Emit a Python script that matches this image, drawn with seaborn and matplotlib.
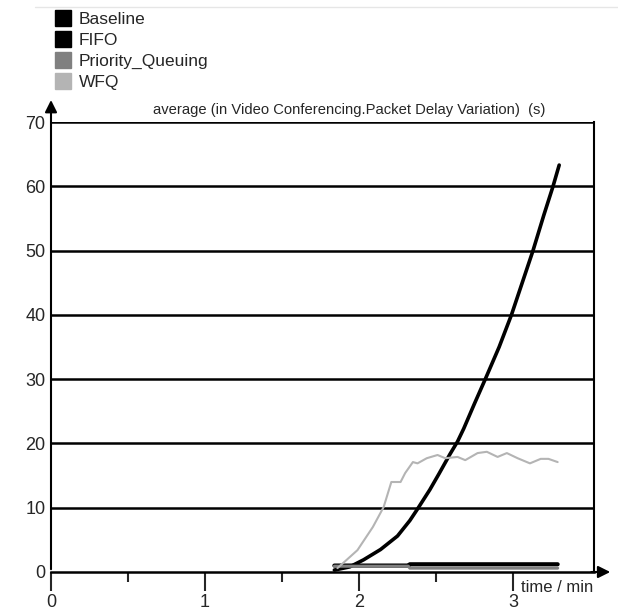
import pandas as pd
import seaborn as sns
import matplotlib.pyplot as plt
from matplotlib.lines import Line2D

# time in minutes, values in seconds
fifo_t = [1.84, 1.94, 2.03, 2.14, 2.25, 2.33, 2.38, 2.46, 2.52, 2.59, 2.64, 2.68, 2.75,
          2.82, 2.91, 2.99, 3.06, 3.13, 3.20, 3.26, 3.30]
fifo_v = [0.3, 0.8, 1.9, 3.5, 5.6, 8.0, 9.8, 12.8, 15.3, 18.3, 20.3, 22.3, 26.2,
          30.0, 35.0, 40.0, 45.0, 50.0, 55.5, 60.0, 63.3]

wfq_t = [1.86, 1.99, 2.09, 2.16, 2.21, 2.27, 2.30, 2.35, 2.38, 2.44, 2.51, 2.56, 2.64, 2.69,
         2.77, 2.83, 2.90, 2.96, 3.03, 3.11, 3.18, 3.23, 3.29]
wfq_v = [0.6, 3.4, 7.0, 10.1, 14.0, 14.0, 15.4, 17.1, 16.9, 17.7, 18.2, 17.7, 17.9, 17.4,
         18.5, 18.7, 17.9, 18.5, 17.7, 16.9, 17.6, 17.6, 17.1]

base_t = [1.84, 2.32, 2.33, 3.29]
base_v = [1.0, 1.0, 1.2, 1.2]

prio_t = [1.84, 2.32, 2.33, 3.29]
prio_v = [0.9, 0.9, 0.6, 0.6]

series = ['Baseline', 'FIFO', 'Priority_Queuing', 'WFQ']
colors = ['#000000', '#000000', '#808080', '#b4b4b4']

df = pd.concat([
    pd.DataFrame({'time': base_t, 'value': base_v, 'scenario': 'Baseline'}),
    pd.DataFrame({'time': prio_t, 'value': prio_v, 'scenario': 'Priority_Queuing'}),
    pd.DataFrame({'time': wfq_t, 'value': wfq_v, 'scenario': 'WFQ'}),
    pd.DataFrame({'time': fifo_t, 'value': fifo_v, 'scenario': 'FIFO'}),
])

sns.set_style('white')
plt.rcParams['font.family'] = ['Liberation Sans', 'DejaVu Sans']

fig = plt.figure(figsize=(6.18, 6.09), dpi=100)
ax = fig.add_axes([51 / 618, 1 - 572 / 609, (594 - 51) / 618, (572 - 122) / 609])

sns.lineplot(data=df, x='time', y='value', hue='scenario', size='scenario',
             hue_order=series, palette=dict(zip(series, colors)),
             sizes={'Baseline': 3, 'FIFO': 2.6, 'Priority_Queuing': 2.2, 'WFQ': 1.5},
             sort=False, legend=False, ax=ax)

ax.set_xlim(0, 3.526)
ax.set_ylim(0, 70)
ax.set_yticks(range(0, 71, 10))
ax.set_xticks([0, 1, 2, 3])
ax.set_xticks([0.5, 1.5, 2.5], minor=True)
ax.tick_params(axis='x', which='major', direction='out', length=14, width=1.5,
               labelsize=13, pad=2, bottom=True)
ax.tick_params(axis='x', which='minor', direction='out', length=7, width=1.5, bottom=True)
ax.tick_params(axis='y', length=0, labelsize=13, pad=4)
ax.set_xlabel('')
ax.set_ylabel('')

for y in range(10, 71, 10):
    ax.axhline(y, color='black', lw=1.8, zorder=0)

ax.spines['top'].set_visible(False)
ax.spines['left'].set_visible(False)
ax.spines['right'].set_color('black')
ax.spines['right'].set_linewidth(1.5)
ax.spines['bottom'].set_color('black')
ax.spines['bottom'].set_linewidth(1.8)

# axis arrows
ax.annotate('', xy=(0, 1.055), xytext=(0, 0), xycoords='axes fraction',
            arrowprops=dict(arrowstyle='-|>', color='black', lw=1.5, mutation_scale=18),
            annotation_clip=False)
ax.annotate('', xy=(1.035, 0), xytext=(0.99, 0), xycoords='axes fraction',
            arrowprops=dict(arrowstyle='-|>', color='black', lw=1.5, mutation_scale=18),
            annotation_clip=False)

ax.text(0.55, 1.012, 'average (in Video Conferencing.Packet Delay Variation)  (s)',
        transform=ax.transAxes, ha='center', va='bottom', fontsize=10.6)
ax.text(3.05, -2.4, 'time / min', ha='left', va='center', fontsize=12)

handles = [Line2D([], [], marker='s', linestyle='none', markersize=11, color=c) for c in colors]
fig.legend(handles, series, loc='upper left', bbox_to_anchor=(55 / 618, 1 - 12 / 609),
           frameon=False, handlelength=0.9, handletextpad=0.45, labelspacing=0.33, fontsize=12.5,
           borderaxespad=0, borderpad=0)

fig.add_artist(Line2D([35 / 618, 1], [1 - 7 / 609, 1 - 7 / 609], color='#e6e6e6', lw=1))

fig.savefig('out.png', dpi=100)
